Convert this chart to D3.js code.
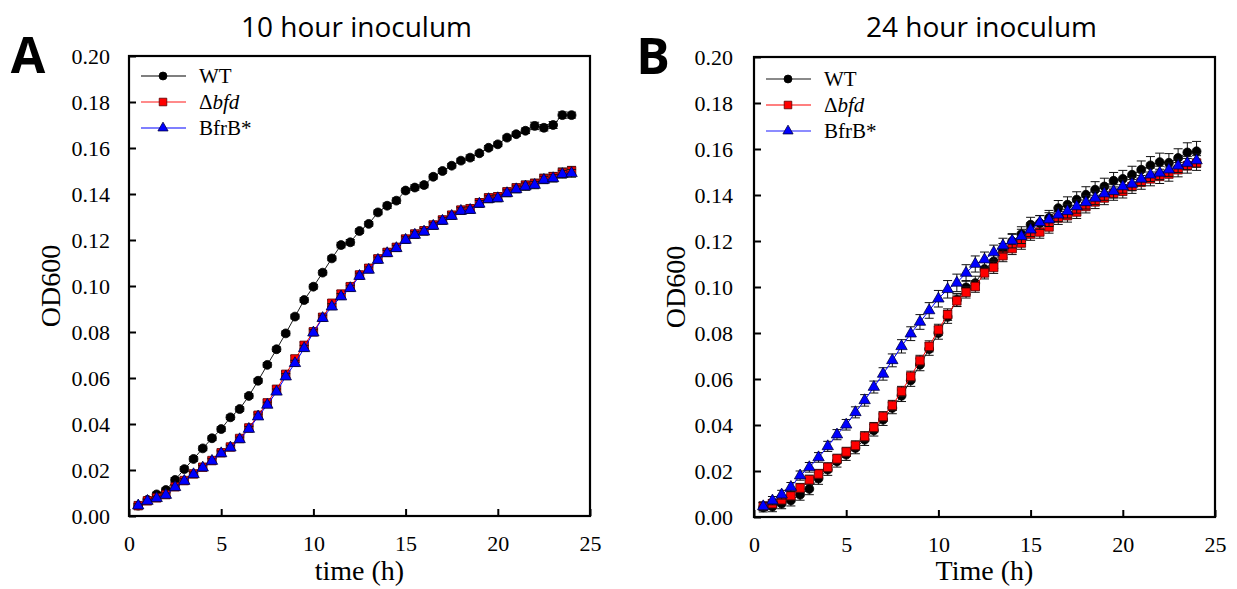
<!DOCTYPE html>
<html>
<head>
<meta charset="utf-8">
<script src="https://cdn.jsdelivr.net/npm/d3@7"></script>
<style>
  body { margin: 0; background: #fff; }
  svg { display: block; }
  .tick line { stroke: #000; stroke-width: 2; }
</style>
</head>
<body>
<div id="chart"></div>
<script>
// sampling times (h)
const timeH = [0.5, 1, 1.5, 2, 2.5, 3, 3.5, 4, 4.5, 5, 5.5, 6, 6.5, 7, 7.5, 8, 8.5, 9, 9.5, 10,
  10.5, 11, 11.5, 12, 12.5, 13, 13.5, 14, 14.5, 15, 15.5, 16, 16.5, 17, 17.5, 18, 18.5, 19, 19.5, 20,
  20.5, 21, 21.5, 22, 22.5, 23, 23.5, 24]

const seriesNames = ["WT", "Δbfd", "BfrB*"]
const xTicks = [0, 5, 10, 15, 20, 25]
const yTicks = [0, 0.02, 0.04, 0.06, 0.08, 0.10, 0.12, 0.14, 0.16, 0.18, 0.20]

// A: 10 hour inoculum
const wtA = [0.0045, 0.0070, 0.0094, 0.0113, 0.0157, 0.0204, 0.0248, 0.0294, 0.0338, 0.0378,
  0.0429, 0.0465, 0.0522, 0.0588, 0.0657, 0.0725, 0.0794, 0.0867, 0.0939, 0.0997,
  0.1058, 0.1120, 0.1178, 0.1190, 0.1239, 0.1270, 0.1320, 0.1349, 0.1371, 0.1415,
  0.1428, 0.1439, 0.1475, 0.1500, 0.1523, 0.1545, 0.1558, 0.1577, 0.1601, 0.1616,
  0.1645, 0.1660, 0.1675, 0.1696, 0.1688, 0.1700, 0.1743, 0.1743]
const bfdA = [0.0045, 0.0066, 0.0079, 0.0093, 0.0127, 0.0154, 0.0183, 0.0212, 0.0241, 0.0275,
  0.0300, 0.0337, 0.0383, 0.0438, 0.0492, 0.0551, 0.0616, 0.0683, 0.0742, 0.0801,
  0.0864, 0.0925, 0.0965, 0.0997, 0.1048, 0.1077, 0.1118, 0.1146, 0.1168, 0.1204,
  0.1226, 0.1240, 0.1265, 0.1287, 0.1308, 0.1330, 0.1336, 0.1362, 0.1383, 0.1388,
  0.1409, 0.1426, 0.1438, 0.1446, 0.1467, 0.1475, 0.1493, 0.1500]
const bfrbA = [0.0045, 0.0065, 0.0077, 0.0091, 0.0125, 0.0152, 0.0181, 0.0210, 0.0239, 0.0272,
  0.0297, 0.0333, 0.0378, 0.0432, 0.0483, 0.0540, 0.0606, 0.0664, 0.0729, 0.0797,
  0.0860, 0.0910, 0.0954, 0.0990, 0.1043, 0.1070, 0.1113, 0.1142, 0.1164, 0.1200,
  0.1222, 0.1236, 0.1261, 0.1283, 0.1304, 0.1326, 0.1330, 0.1357, 0.1377, 0.1381,
  0.1403, 0.1420, 0.1432, 0.1439, 0.1461, 0.1468, 0.1486, 0.1490]
const wtErrA = [0.0008, 0.0008, 0.0009, 0.0009, 0.0010, 0.0010, 0.0010, 0.0010, 0.0010, 0.0010,
  0.0010, 0.0010, 0.0010, 0.0010, 0.0010, 0.0010, 0.0010, 0.0010, 0.0010, 0.0010,
  0.0010, 0.0010, 0.0012, 0.0012, 0.0010, 0.0010, 0.0010, 0.0012, 0.0012, 0.0010,
  0.0012, 0.0012, 0.0010, 0.0010, 0.0010, 0.0010, 0.0012, 0.0010, 0.0010, 0.0010,
  0.0010, 0.0010, 0.0012, 0.0016, 0.0014, 0.0015, 0.0014, 0.0013]
const bfdErrA = [0.0009, 0.0009, 0.0009, 0.0010, 0.0010, 0.0010, 0.0010, 0.0011, 0.0011, 0.0011,
  0.0011, 0.0012, 0.0012, 0.0012, 0.0013, 0.0013, 0.0013, 0.0014, 0.0014, 0.0014,
  0.0015, 0.0015, 0.0015, 0.0015, 0.0015, 0.0015, 0.0015, 0.0015, 0.0015, 0.0016,
  0.0016, 0.0016, 0.0016, 0.0016, 0.0016, 0.0016, 0.0016, 0.0017, 0.0017, 0.0017,
  0.0017, 0.0018, 0.0018, 0.0018, 0.0019, 0.0019, 0.0020, 0.0020]
const bfrbErrA = [0.0008, 0.0008, 0.0009, 0.0009, 0.0009, 0.0010, 0.0010, 0.0010, 0.0010, 0.0010,
  0.0010, 0.0010, 0.0011, 0.0011, 0.0012, 0.0012, 0.0013, 0.0013, 0.0013, 0.0013,
  0.0013, 0.0013, 0.0013, 0.0013, 0.0013, 0.0013, 0.0013, 0.0013, 0.0013, 0.0014,
  0.0014, 0.0014, 0.0014, 0.0014, 0.0014, 0.0014, 0.0014, 0.0015, 0.0015, 0.0015,
  0.0015, 0.0015, 0.0016, 0.0016, 0.0016, 0.0016, 0.0017, 0.0017]

// B: 24 hour inoculum
const wtB = [0.0042, 0.0045, 0.0058, 0.0072, 0.0097, 0.0122, 0.0167, 0.0206, 0.0242, 0.0271,
  0.0300, 0.0336, 0.0377, 0.0423, 0.0474, 0.0527, 0.0594, 0.0662, 0.0730, 0.0800,
  0.0870, 0.0944, 0.0998, 0.1017, 0.1078, 0.1111, 0.1158, 0.1198, 0.1230, 0.1271,
  0.1278, 0.1300, 0.1343, 0.1358, 0.1380, 0.1401, 0.1423, 0.1437, 0.1462, 0.1470,
  0.1488, 0.1510, 0.1529, 0.1543, 0.1540, 0.1561, 0.1585, 0.1590]
const bfdB = [0.0047, 0.0058, 0.0075, 0.0093, 0.0126, 0.0162, 0.0187, 0.0216, 0.0253, 0.0283,
  0.0311, 0.0350, 0.0390, 0.0437, 0.0485, 0.0546, 0.0611, 0.0680, 0.0742, 0.0814,
  0.0880, 0.0940, 0.0977, 0.1002, 0.1061, 0.1085, 0.1136, 0.1167, 0.1191, 0.1230,
  0.1239, 0.1261, 0.1300, 0.1310, 0.1326, 0.1350, 0.1370, 0.1387, 0.1406, 0.1416,
  0.1437, 0.1455, 0.1470, 0.1481, 0.1491, 0.1510, 0.1527, 0.1539]
const bfrbB = [0.0046, 0.0071, 0.0097, 0.0130, 0.0180, 0.0216, 0.0259, 0.0307, 0.0358, 0.0401,
  0.0455, 0.0507, 0.0565, 0.0622, 0.0681, 0.0742, 0.0797, 0.0848, 0.0898, 0.0949,
  0.0990, 0.1018, 0.1061, 0.1100, 0.1119, 0.1150, 0.1180, 0.1201, 0.1220, 0.1249,
  0.1281, 0.1293, 0.1314, 0.1329, 0.1350, 0.1368, 0.1387, 0.1406, 0.1416, 0.1437,
  0.1448, 0.1470, 0.1488, 0.1496, 0.1510, 0.1527, 0.1539, 0.1550]
const wtErrB = [0.0020, 0.0022, 0.0022, 0.0024, 0.0024, 0.0025, 0.0025, 0.0025, 0.0025, 0.0025,
  0.0025, 0.0025, 0.0025, 0.0025, 0.0025, 0.0025, 0.0026, 0.0026, 0.0027, 0.0027,
  0.0028, 0.0028, 0.0030, 0.0030, 0.0030, 0.0030, 0.0031, 0.0031, 0.0032, 0.0032,
  0.0032, 0.0033, 0.0033, 0.0034, 0.0034, 0.0035, 0.0035, 0.0036, 0.0036, 0.0037,
  0.0037, 0.0038, 0.0038, 0.0039, 0.0040, 0.0040, 0.0042, 0.0043]
const bfdErrB = [0.0018, 0.0018, 0.0019, 0.0019, 0.0020, 0.0020, 0.0020, 0.0020, 0.0020, 0.0020,
  0.0020, 0.0021, 0.0021, 0.0021, 0.0022, 0.0022, 0.0023, 0.0023, 0.0024, 0.0024,
  0.0025, 0.0025, 0.0025, 0.0025, 0.0026, 0.0026, 0.0026, 0.0026, 0.0027, 0.0027,
  0.0027, 0.0027, 0.0028, 0.0028, 0.0028, 0.0028, 0.0029, 0.0029, 0.0029, 0.0029,
  0.0030, 0.0030, 0.0030, 0.0031, 0.0031, 0.0031, 0.0032, 0.0032]
const bfrbErrB = [0.0018, 0.0018, 0.0019, 0.0020, 0.0020, 0.0021, 0.0021, 0.0022, 0.0022, 0.0023,
  0.0024, 0.0025, 0.0026, 0.0027, 0.0028, 0.0029, 0.0030, 0.0032, 0.0034, 0.0036,
  0.0038, 0.0038, 0.0036, 0.0035, 0.0033, 0.0032, 0.0032, 0.0031, 0.0031, 0.0030,
  0.0030, 0.0030, 0.0030, 0.0029, 0.0029, 0.0029, 0.0029, 0.0029, 0.0029, 0.0029,
  0.0029, 0.0029, 0.0029, 0.0029, 0.0029, 0.0029, 0.0029, 0.0029]

const width = 1237
const height = 589
const serif = "'Liberation Serif', 'Times New Roman', serif"

const seriesStyle = [
  { symbol: d3.symbolCircle, size: 62, fill: "#000", stroke: "#000", line: "#1a1a1a" },
  { symbol: d3.symbolSquare, size: 72, fill: "#ff0000", stroke: "#5a0000", line: "#ff0000" },
  { symbol: d3.symbolTriangle, size: 56, fill: "#0000ff", stroke: "#000040", line: "#0000ff" }
]

const panels = [
  {
    letter: "A", title: "10 hour inoculum", xLabel: "time (h)",
    left: 129, right: 590, top: 56, bottom: 516, yPad: 19,
    values: [wtA, bfdA, bfrbA], errors: [wtErrA, bfdErrA, bfrbErrA],
    legendLines: [{ c: "#000", w: 1.2 }, { c: "#ff8a8a", w: 2 }, { c: "#0000ff", w: 1.2 }],
    legendY: [20, 46, 72]
  },
  {
    letter: "B", title: "24 hour inoculum", xLabel: "Time (h)",
    left: 754, right: 1215, top: 57, bottom: 517, yPad: 21,
    values: [wtB, bfdB, bfrbB], errors: [wtErrB, bfdErrB, bfrbErrB],
    legendLines: [{ c: "#8a8a8a", w: 2 }, { c: "#ff0000", w: 1.2 }, { c: "#8c8cff", w: 2 }],
    legendY: [22, 48, 74]
  }
]

const svg = d3.select("#chart").append("svg")
    .attr("width", width)
    .attr("height", height)

panels.forEach(p => drawPanel(p))

function styleTicks(axis) {
  axis.select(".domain").remove()
  axis.attr("font-family", null).attr("font-size", null)
  axis.selectAll(".tick text")
      .style("font-family", serif)
      .style("font-size", "22px")
      .attr("fill", "#000")
}

function drawPanel(p) {
  const x = d3.scaleLinear().domain([0, 25]).range([p.left, p.right])
  const y = d3.scaleLinear().domain([0, 0.2]).range([p.bottom, p.top])
  const g = svg.append("g")

  // panel letter + title
  g.append("text")
      .attr("x", p.left - 101)
      .attr("y", p.top + 17)
      .attr("text-anchor", "middle")
      .style("font-family", "'Open Sans', 'Liberation Sans', sans-serif")
      .style("font-weight", 700)
      .style("font-size", "50px")
      .text(p.letter)

  g.append("text")
      .attr("x", (p.left + p.right) / 2 - 3)
      .attr("y", 37)
      .attr("text-anchor", "middle")
      .style("font-family", "'Open Sans', sans-serif")
      .style("font-size", "28px")
      .text(p.title)

  // axes with inward ticks
  g.append("g")
      .attr("transform", `translate(0,${p.bottom})`)
      .call(d3.axisBottom(x).tickValues(xTicks).tickSizeInner(-7).tickSizeOuter(0).tickPadding(19).tickFormat(d3.format("d")))
      .call(styleTicks)

  g.append("g")
      .attr("transform", `translate(${p.left},0)`)
      .call(d3.axisLeft(y).tickValues(yTicks).tickSizeInner(-7).tickSizeOuter(0).tickPadding(p.yPad).tickFormat(d3.format(".2f")))
      .call(styleTicks)

  // axis titles
  g.append("text")
      .attr("x", (p.left + p.right) / 2)
      .attr("y", 580)
      .attr("text-anchor", "middle")
      .style("font-family", serif)
      .style("font-size", "28px")
      .text(p.xLabel)

  g.append("text")
      .attr("transform", `translate(${p.left - 69},${(p.top + p.bottom) / 2}) rotate(-90)`)
      .attr("text-anchor", "middle")
      .style("font-family", serif)
      .style("font-size", "28px")
      .text("OD600")

  // series: error bars, line, markers
  p.values.forEach((vals, i) => {
    const st = seriesStyle[i]
    const errs = p.errors[i]
    const pts = timeH.map((t, j) => ({ t, v: vals[j], e: errs[j] }))
    const s = g.append("g")

    const bars = s.selectAll("g.err").data(pts).join("g").attr("class", "err")
        .attr("stroke", "#111").attr("stroke-width", 1)
    bars.append("line")
        .attr("x1", d => x(d.t)).attr("x2", d => x(d.t))
        .attr("y1", d => y(d.v - d.e)).attr("y2", d => y(d.v + d.e))
    bars.append("line")
        .attr("x1", d => x(d.t) - 4.5).attr("x2", d => x(d.t) + 4.5)
        .attr("y1", d => y(d.v + d.e)).attr("y2", d => y(d.v + d.e))
    bars.append("line")
        .attr("x1", d => x(d.t) - 4.5).attr("x2", d => x(d.t) + 4.5)
        .attr("y1", d => y(d.v - d.e)).attr("y2", d => y(d.v - d.e))

    s.append("path")
        .attr("fill", "none")
        .attr("stroke", st.line)
        .attr("stroke-width", 1)
        .attr("d", d3.line().x(d => x(d.t)).y(d => y(d.v))(pts))

    s.selectAll("path.mk").data(pts).join("path").attr("class", "mk")
        .attr("transform", d => `translate(${x(d.t)},${y(d.v)})`)
        .attr("d", d3.symbol(st.symbol, st.size))
        .attr("fill", st.fill)
        .attr("stroke", st.stroke)
        .attr("stroke-width", 0.8)
  })

  // legend
  const lg = g.append("g").attr("transform", `translate(${p.left},${p.top})`)
  seriesNames.forEach((name, i) => {
    const st = seriesStyle[i]
    const ly = p.legendY[i]
    lg.append("line")
        .attr("x1", 12).attr("x2", 57).attr("y1", ly).attr("y2", ly)
        .attr("stroke", p.legendLines[i].c).attr("stroke-width", p.legendLines[i].w)
    lg.append("path")
        .attr("transform", `translate(34,${ly})`)
        .attr("d", d3.symbol(st.symbol, st.size * 0.8))
        .attr("fill", st.fill).attr("stroke", st.stroke).attr("stroke-width", 0.8)
    const t = lg.append("text")
        .attr("x", 70).attr("y", ly).attr("dy", "0.35em")
        .style("font-family", serif)
        .style("font-size", "21px")
    if (name === "Δbfd") {
      t.append("tspan").text("Δ")
      t.append("tspan").style("font-style", "italic").text("bfd")
    } else {
      t.text(name)
    }
  })

  // frame
  g.append("rect")
      .attr("x", p.left).attr("y", p.top)
      .attr("width", p.right - p.left).attr("height", p.bottom - p.top)
      .attr("fill", "none").attr("stroke", "#000").attr("stroke-width", 2.2)
}
</script>
</body>
</html>
